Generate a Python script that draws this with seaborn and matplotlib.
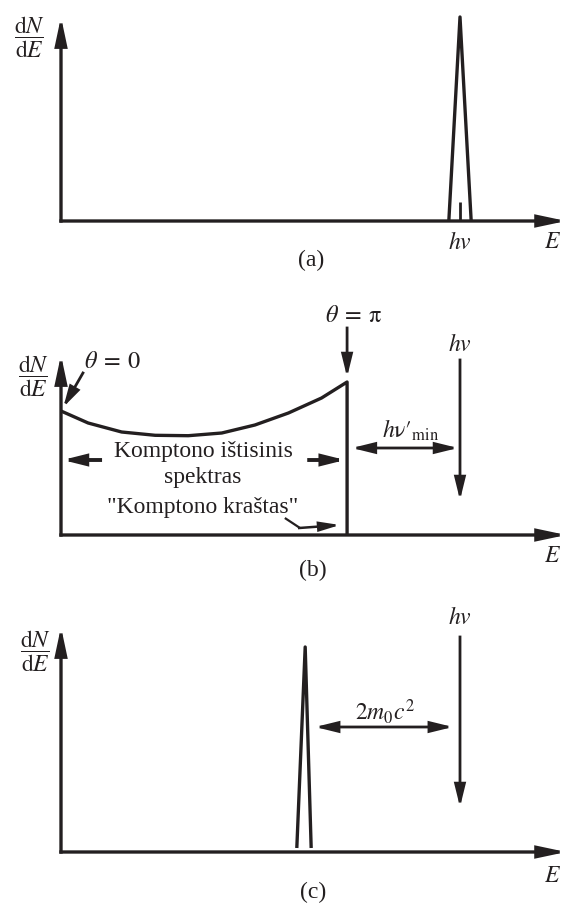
import matplotlib
matplotlib.use("Agg")
import matplotlib.pyplot as plt
import pandas as pd
import seaborn as sns

sns.set_theme(style="white")
plt.rcParams["font.family"] = ["Liberation Serif", "DejaVu Serif"]
plt.rcParams["mathtext.fontset"] = "stix"

INK = "#231f20"

# Energies are in units of the photon energy hv, intensities in arbitrary units.
HV = 1.0
E_AXIS_END = 1.266

# (a) full-energy photopeak at hv
peak_a_E = [0.972, 1.0, 1.028]
peak_a_N = [0.0, 2.04, 0.0]
mark_a_N = [0.0, 0.19]

# (b) Compton continuum from theta = 0 up to the Compton edge (theta = pi)
compton_E = [0.0, 0.068, 0.152, 0.236, 0.319, 0.403, 0.486, 0.570, 0.653, 0.717, 0.717]
compton_N = [1.24, 1.12, 1.03, 0.997, 0.993, 1.02, 1.10, 1.22, 1.37, 1.53, 0.0]
COMPTON_EDGE = 0.717

# (c) double-escape peak, 2 m0 c^2 below hv
peak_c_E = [0.591, 0.612, 0.627]
peak_c_N = [0.04, 2.05, 0.04]

# vertical extent of the dN/dE axis in each panel
y_axis_top = {"a": 2.04, "b": 1.80, "c": 2.25}

# panel bands (pixels from top) and their visible intensity ranges
FIG_W, FIG_H = 571, 908
X_LIM = (-61 / 399, 510 / 399)
bands = {
    "a": dict(top=0, bottom=280, ylim=(-0.59, 2.21)),
    "b": dict(top=280, bottom=600, ylim=(-0.65, 2.55)),
    "c": dict(top=600, bottom=908, ylim=(-0.56, 2.52)),
}

fig = plt.figure(figsize=(FIG_W / 100, FIG_H / 100), dpi=100)
axes = {}
for key, b in bands.items():
    ax = fig.add_axes([0, 1 - b["bottom"] / FIG_H, 1, (b["bottom"] - b["top"]) / FIG_H])
    ax.set_xlim(*X_LIM)
    ax.set_ylim(*b["ylim"])
    ax.set_axis_off()
    axes[key] = ax


def arrow(ax, start, end, style="-|>", hl=0.6, hw=0.15, ms=20, lw=2.0):
    ax.annotate(
        "", xy=end, xytext=start,
        arrowprops=dict(arrowstyle=f"{style},head_length={hl},head_width={hw}",
                        lw=lw, color=INK, shrinkA=0, shrinkB=0, mutation_scale=ms,
                        capstyle="projecting", joinstyle="miter"),
    )


def draw_frame(ax, key):
    arrow(ax, (0, 0), (E_AXIS_END, 0), hl=0.8, hw=0.17, lw=2.4)
    arrow(ax, (0, 0), (0, y_axis_top[key]), hl=0.8, hw=0.17, lw=2.4)


def line(ax, xs, ys, lw=2.4):
    df = pd.DataFrame({"E": xs, "N": ys})
    sns.lineplot(data=df, x="E", y="N", ax=ax, sort=False, estimator=None,
                 color=INK, lw=lw, solid_joinstyle="round", solid_capstyle="butt")
    ax.set_axis_off()


TXT = 17
FRAC = 17
TH = 17.5
frac = r"$\dfrac{\mathrm{d}N}{\mathrm{d}E}$"

# ---------- (a) ----------
ax = axes["a"]
draw_frame(ax, "a")
line(ax, peak_a_E, peak_a_N)
line(ax, [HV, HV], mark_a_N, lw=2.0)
ax.text(-0.080, 1.84, frac, ha="center", va="center", fontsize=FRAC, color=INK)
ax.text(HV, -0.22, r"$hv$", ha="center", va="center", fontsize=TXT, color=INK)
ax.text(1.233, -0.22, r"$E$", ha="center", va="center", fontsize=TXT, color=INK)
ax.text(0.627, -0.39, "(a)", ha="center", va="center", fontsize=TXT, color=INK)

# ---------- (b) ----------
ax = axes["b"]
draw_frame(ax, "b")
line(ax, compton_E, compton_N)
ax.text(-0.068, 1.59, frac, ha="center", va="center", fontsize=FRAC, color=INK)
ax.text(0.128, 1.72, r"$\theta\:=\:0$", ha="center", va="center", fontsize=TH, color=INK)
arrow(ax, (0.055, 1.62), (0.006, 1.28), hl=0.6, hw=0.16, lw=2.0)
ax.text(0.733, 2.18, r"$\theta\:=\:\mathrm{π}$", ha="center", va="center", fontsize=TH, color=INK)
arrow(ax, (COMPTON_EDGE, 2.07), (COMPTON_EDGE, 1.58), hl=0.65, hw=0.16, lw=2.0)
ax.text(HV, 1.90, r"$hv$", ha="center", va="center", fontsize=TXT, color=INK)
arrow(ax, (HV, 1.75), (HV, 0.35), hl=0.65, hw=0.16, lw=2.0)
ax.text(0.875, 1.05, r"$h\mathrm{ν′}_{\mathrm{min}}$", ha="center", va="center", fontsize=TXT, color=INK)
arrow(ax, (COMPTON_EDGE + 0.012, 0.87), (HV - 0.005, 0.87), style="<|-|>", hl=0.65, hw=0.16, lw=2.0)
arrow(ax, (0.098, 0.75), (0.004, 0.75), hl=0.6, hw=0.15, lw=2.8)
arrow(ax, (0.622, 0.75), (COMPTON_EDGE - 0.005, 0.75), hl=0.6, hw=0.15, lw=2.8)
ax.text(0.356, 0.83, "Komptono ištisinis", ha="center", va="center", fontsize=TXT, color=INK)
ax.text(0.356, 0.58, "spektras", ha="center", va="center", fontsize=TXT, color=INK)
ax.text(0.356, 0.28, '"Komptono kraštas"', ha="center", va="center", fontsize=TXT, color=INK)
line(ax, [0.561, 0.599], [0.17, 0.07], lw=1.6)
arrow(ax, (0.597, 0.07), (COMPTON_EDGE - 0.018, 0.10), hl=0.65, hw=0.15, lw=1.8, ms=18)
ax.text(1.233, -0.22, r"$E$", ha="center", va="center", fontsize=TXT, color=INK)
ax.text(0.632, -0.35, "(b)", ha="center", va="center", fontsize=TXT, color=INK)

# ---------- (c) ----------
ax = axes["c"]
draw_frame(ax, "c")
line(ax, peak_c_E, peak_c_N)
ax.text(-0.063, 2.01, frac, ha="center", va="center", fontsize=FRAC, color=INK)
ax.text(HV, 2.34, r"$hv$", ha="center", va="center", fontsize=TXT, color=INK)
arrow(ax, (HV, 2.15), (HV, 0.45), hl=0.65, hw=0.16, lw=2.0)
ax.text(0.812, 1.40, r"$2m_0c^2$", ha="center", va="center", fontsize=TXT, color=INK)
arrow(ax, (0.637, 1.25), (0.982, 1.25), style="<|-|>", hl=0.65, hw=0.16, lw=2.0)
ax.text(1.233, -0.25, r"$E$", ha="center", va="center", fontsize=TXT, color=INK)
ax.text(0.632, -0.40, "(c)", ha="center", va="center", fontsize=TXT, color=INK)

fig.savefig("out.png", dpi=100, facecolor="white")
